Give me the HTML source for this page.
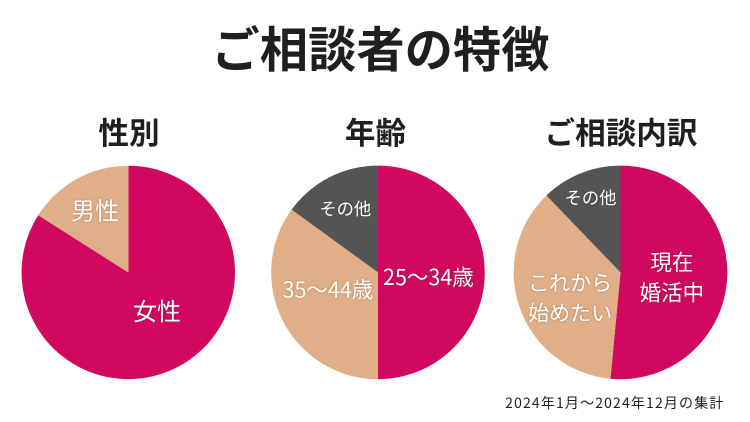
<!DOCTYPE html>
<html lang="ja">
<head>
<meta charset="utf-8">
<title>ご相談者の特徴</title>
<style>
html,body{margin:0;padding:0;background:#fff;}
body{width:750px;height:422px;overflow:hidden;}
svg{display:block;}
text{font-family:"Noto Sans CJK JP","Liberation Sans",sans-serif;}
.heading{font-weight:700;fill:#1f1f1f;text-anchor:middle;}
.slice-label{fill:#fff;font-weight:400;text-anchor:middle;}
.shadow{filter:drop-shadow(0 0 1px rgba(60,40,30,.35));}
</style>
</head>
<body>
<svg id="chart" width="750" height="422" viewBox="0 0 750 422" xmlns="http://www.w3.org/2000/svg">
  <text class="heading" x="380.5" y="67" font-size="48.3">ご相談者の特徴</text>
  <text class="heading" x="129" y="144" font-size="30.6">性別</text>
  <text class="heading" x="375.5" y="144" font-size="30.6">年齢</text>
  <text class="heading" x="621" y="144" font-size="30.6">ご相談内訳</text>
  <text x="724.5" y="408" font-size="14" letter-spacing="1.15" fill="#222" text-anchor="end">2024年1月～2024年12月の集計</text>
  <g id="pies"></g>
</svg>
<script>
const genderValues = [84, 16];
const ageValues = [50, 35, 15];
const consultationValues = [51.5, 36.3, 12.2];
const genderCategories = ["女性", "男性"];
const ageCategories = ["25～34歳", "35～44歳", "その他"];
const consultationCategories = ["現在|婚活中", "これから|始めたい", "その他"];

const colors = ["#d0085f", "#e0ae87", "#545454"];
const NS = "http://www.w3.org/2000/svg";
const root = document.getElementById("pies");

function angleOf(fraction) {
  return fraction * 2 * Math.PI;
}
function px(cx, r, a) {
  return cx + r * Math.sin(a);
}
function py(cy, r, a) {
  return cy - r * Math.cos(a);
}

function drawPie(name, cx, cy, r, values, categories, labelStyles) {
  const total = values.reduce(function (s, v) { return s + v; }, 0);
  const group = document.createElementNS(NS, "g");
  
  
  root.appendChild(group);
  let cumulative = 0;
  const mids = [];
  values.forEach(function (v, i) {
    const a0 = angleOf(cumulative / total);
    cumulative += v;
    const a1 = angleOf(cumulative / total);
    mids.push((a0 + a1) / 2);
    const large = a1 - a0 > Math.PI ? 1 : 0;
    const path = document.createElementNS(NS, "path");
    path.setAttribute("d",
      "M" + cx + " " + cy +
      "L" + px(cx, r, a0) + " " + py(cy, r, a0) +
      "A" + r + " " + r + " 0 " + large + " 1 " + px(cx, r, a1) + " " + py(cy, r, a1) + "Z");
    path.setAttribute("fill", colors[i]);
    
    
    group.appendChild(path);
  });
  categories.forEach(function (cat, i) {
    const st = labelStyles[i];
    const lines = cat.split("|");
    const lx = px(cx, r * st.radial, mids[i]) + st.dx;
    const ly = py(cy, r * st.radial, mids[i]) + st.dy;
    lines.forEach(function (line, j) {
      const t = document.createElementNS(NS, "text");
      t.setAttribute("class", "slice-label shadow");
      t.setAttribute("x", lx);
      t.setAttribute("y", ly + (j - (lines.length - 1) / 2) * st.size * 1.42 + st.size * 0.36);
      t.setAttribute("font-size", st.size);
      
      
      t.textContent = line;
      group.appendChild(t);
    });
  });
}

drawPie("gender", 128.3, 272.4, 106.7, genderValues, genderCategories, [
  { radial: 0.5, dx: 3, dy: -8, size: 24 },
  { radial: 0.5, dx: -7.5, dy: -15, size: 24 }
]);
drawPie("age", 378, 272.4, 106.8, ageValues, ageCategories, [
  { radial: 0.5, dx: -3, dy: 5, size: 21.5 },
  { radial: 0.5, dx: -2.5, dy: -7, size: 21.5 },
  { radial: 0.5, dx: -8.5, dy: -16, size: 17.3 }
]);
drawPie("consultation", 620.5, 272.4, 106.8, consultationValues, consultationCategories, [
  { radial: 0.5, dx: -2, dy: 2.5, size: 21.5 },
  { radial: 0.5, dx: 0, dy: 8, size: 21 },
  { radial: 0.5, dx: -10, dy: -25, size: 17.3 }
]);
</script>
</body>
</html>
